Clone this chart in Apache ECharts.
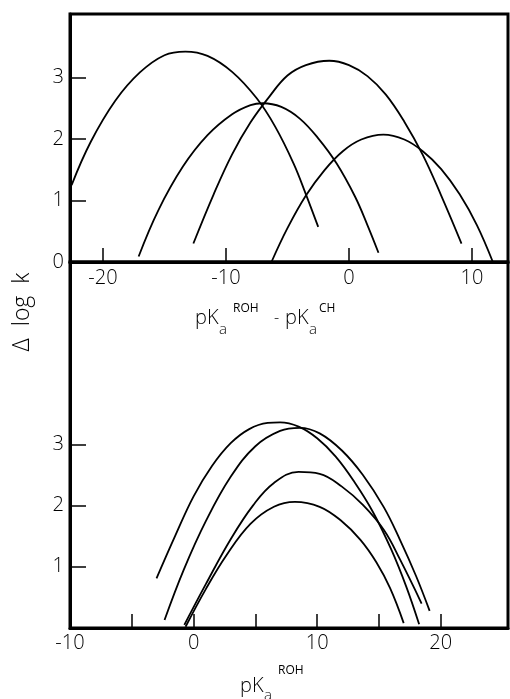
<!DOCTYPE html>
<html>
<head>
<meta charset="utf-8">
<script src="https://cdn.jsdelivr.net/npm/echarts@6/dist/echarts.min.js"></script>
<style>
  html, body { margin: 0; padding: 0; background: #fff; }
  #chart { width: 510px; height: 699px; }
</style>
</head>
<body>
<div id="chart"></div>
<script>
// upper panel: delta log k vs pKa(ROH) - pKa(CH)
const upperCurveA = [[-22.55, 1.25], [-21, 1.95], [-19, 2.62], [-17, 3.08], [-15, 3.36], [-13.3, 3.42], [-11.5, 3.35], [-9.5, 3.09], [-7.5, 2.66], [-6, 2.2], [-4.5, 1.6], [-3.5, 1.1], [-2.5, 0.57]];
const upperCurveB = [[-17.1, 0.09], [-15.5, 0.84], [-13.5, 1.55], [-11.5, 2.06], [-9.5, 2.4], [-8, 2.55], [-7, 2.58], [-5.5, 2.52], [-4, 2.33], [-2.5, 2.01], [-1, 1.6], [0.5, 1.06], [1.5, 0.6], [2.4, 0.15]];
const upperCurveC = [[-12.65, 0.3], [-11, 1.1], [-9.5, 1.75], [-8, 2.27], [-6.5, 2.68], [-5, 3.03], [-3.5, 3.2], [-1.6, 3.27], [0, 3.2], [1.5, 3.02], [3, 2.72], [4.5, 2.28], [6, 1.74], [7.5, 1.08], [9.15, 0.3]];
const upperCurveD = [[-6.3, 0], [-5, 0.55], [-3.5, 1.08], [-2, 1.49], [-0.5, 1.8], [1, 1.99], [2.8, 2.07], [4.5, 1.99], [6, 1.8], [7.5, 1.51], [9, 1.1], [10.4, 0.6], [11.7, 0]];

// lower panel: delta log k vs pKa(ROH)
const lowerCurve1 = [[-3, 0.81], [-1.5, 1.5], [0, 2.15], [1.5, 2.65], [3, 3.02], [4.5, 3.25], [6, 3.35], [7, 3.36], [8.5, 3.29], [10, 3.1], [11.5, 2.8], [13, 2.39], [14.5, 1.9], [16, 1.28], [17.2, 0.68], [18.25, 0.06]];
const lowerCurve2 = [[-2.35, 0.13], [-0.8, 0.95], [1, 1.75], [3, 2.47], [5, 2.97], [7, 3.22], [8.6, 3.27], [10.2, 3.18], [12, 2.9], [13.7, 2.5], [15.4, 1.97], [16.7, 1.44], [18, 0.85], [19.1, 0.28]];
const lowerCurve3 = [[-0.75, 0.05], [1, 0.72], [3, 1.45], [4.8, 2.0], [6.5, 2.37], [8.5, 2.55], [10.2, 2.52], [12, 2.31], [13.7, 2.01], [15.4, 1.6], [16.7, 1.12], [18.45, 0.4]];
const lowerCurve4 = [[-0.65, 0.02], [1, 0.64], [2.7, 1.2], [4.6, 1.7], [6.5, 1.98], [8.2, 2.06], [10.2, 1.98], [11.9, 1.76], [13.5, 1.44], [14.8, 1.07], [15.9, 0.65], [17, 0.08]];

const upperXTicks = [-20, -10, 0, 10];
const upperYTicks = [0, 1, 2, 3];
const lowerXTicks = [-10, -5, 0, 5, 10, 15, 20];
const lowerXLabels = [-10, 0, 10, 20];
const lowerYTicks = [1, 2, 3];

const FONT = "'Open Sans', 'DejaVu Sans', sans-serif";

function curve(data, idx) {
  return {
    type: "line",
    data: data,
    xAxisIndex: idx,
    yAxisIndex: idx,
    smooth: 0.4,
    showSymbol: false,
    silent: true,
    lineStyle: { color: "#000", width: 1.8 },
  };
}

function xAxis(idx, min, max, ticks, labels, margin) {
  return {
    type: "value",
    gridIndex: idx,
    min: min,
    max: max,
    position: "bottom",
    axisLine: { onZero: false, lineStyle: { color: "#000", width: 3 } },
    axisTick: { inside: true, length: 14, customValues: ticks, lineStyle: { color: "#000", width: 1.5 } },
    axisLabel: { customValues: labels, margin: margin, color: "#000", fontSize: 20, fontFamily: FONT, fontWeight: 300 },
    splitLine: { show: false },
  };
}

function yAxis(idx, max, ticks) {
  return {
    type: "value",
    gridIndex: idx,
    min: 0,
    max: max,
    position: "left",
    axisLine: { show: true, onZero: false, lineStyle: { color: "#000", width: 3 } },
    axisTick: { show: true, inside: true, length: 16, customValues: ticks, lineStyle: { color: "#000", width: 1.5 } },
    axisLabel: { customValues: ticks, margin: 6, color: "#000", fontSize: 20, fontFamily: FONT, fontWeight: 300 },
    splitLine: { show: false },
  };
}

function label(text, x, y, size, weight) {
  return {
    type: "text",
    x: x,
    y: y,
    silent: true,
    style: { text: text, fontSize: size, fontFamily: FONT, fontWeight: weight || 300, fill: "#000", align: "left", verticalAlign: "middle" },
  };
}

const chart = echarts.init(document.getElementById("chart"), null, { renderer: "canvas" });

chart.setOption({
  animation: false,
  backgroundColor: "#fff",
  grid: [
    { left: 70, top: 14, width: 438, height: 248, show: true, borderColor: "#000", borderWidth: 3 },
    { left: 70, top: 262, width: 438, height: 366, show: true, borderColor: "#000", borderWidth: 3 },
  ],
  xAxis: [
    xAxis(0, -22.68, 12.93, upperXTicks, upperXTicks, 6),
    xAxis(1, -10, 25.44, lowerXTicks, lowerXLabels, 5),
  ],
  yAxis: [
    yAxis(0, 4.03, upperYTicks),
    yAxis(1, 5.98, lowerYTicks),
  ],
  series: [
    curve(upperCurveA, 0),
    curve(upperCurveB, 0),
    curve(upperCurveC, 0),
    curve(upperCurveD, 0),
    curve(lowerCurve1, 1),
    curve(lowerCurve2, 1),
    curve(lowerCurve3, 1),
    curve(lowerCurve4, 1),
  ],
  graphic: [
    {
      type: "text",
      x: 22,
      y: 312,
      rotation: Math.PI / 2,
      silent: true,
      style: { text: "Δ  log  k", fontSize: 23, fontFamily: FONT, fontWeight: 300, fill: "#000", align: "center", verticalAlign: "middle" },
    },
    // upper axis title
    label("pK", 195, 318, 20),
    label("a", 219, 330, 15),
    label("ROH", 233, 309, 12, 400),
    label("-", 274, 318, 16),
    label("pK", 285, 318, 20),
    label("a", 309, 330, 15),
    label("CH", 319, 309, 12, 400),
    // lower axis title
    label("pK", 240, 686, 20),
    label("a", 264, 696, 15),
    label("ROH", 278, 671, 12, 400),
  ],
});
</script>
</body>
</html>
